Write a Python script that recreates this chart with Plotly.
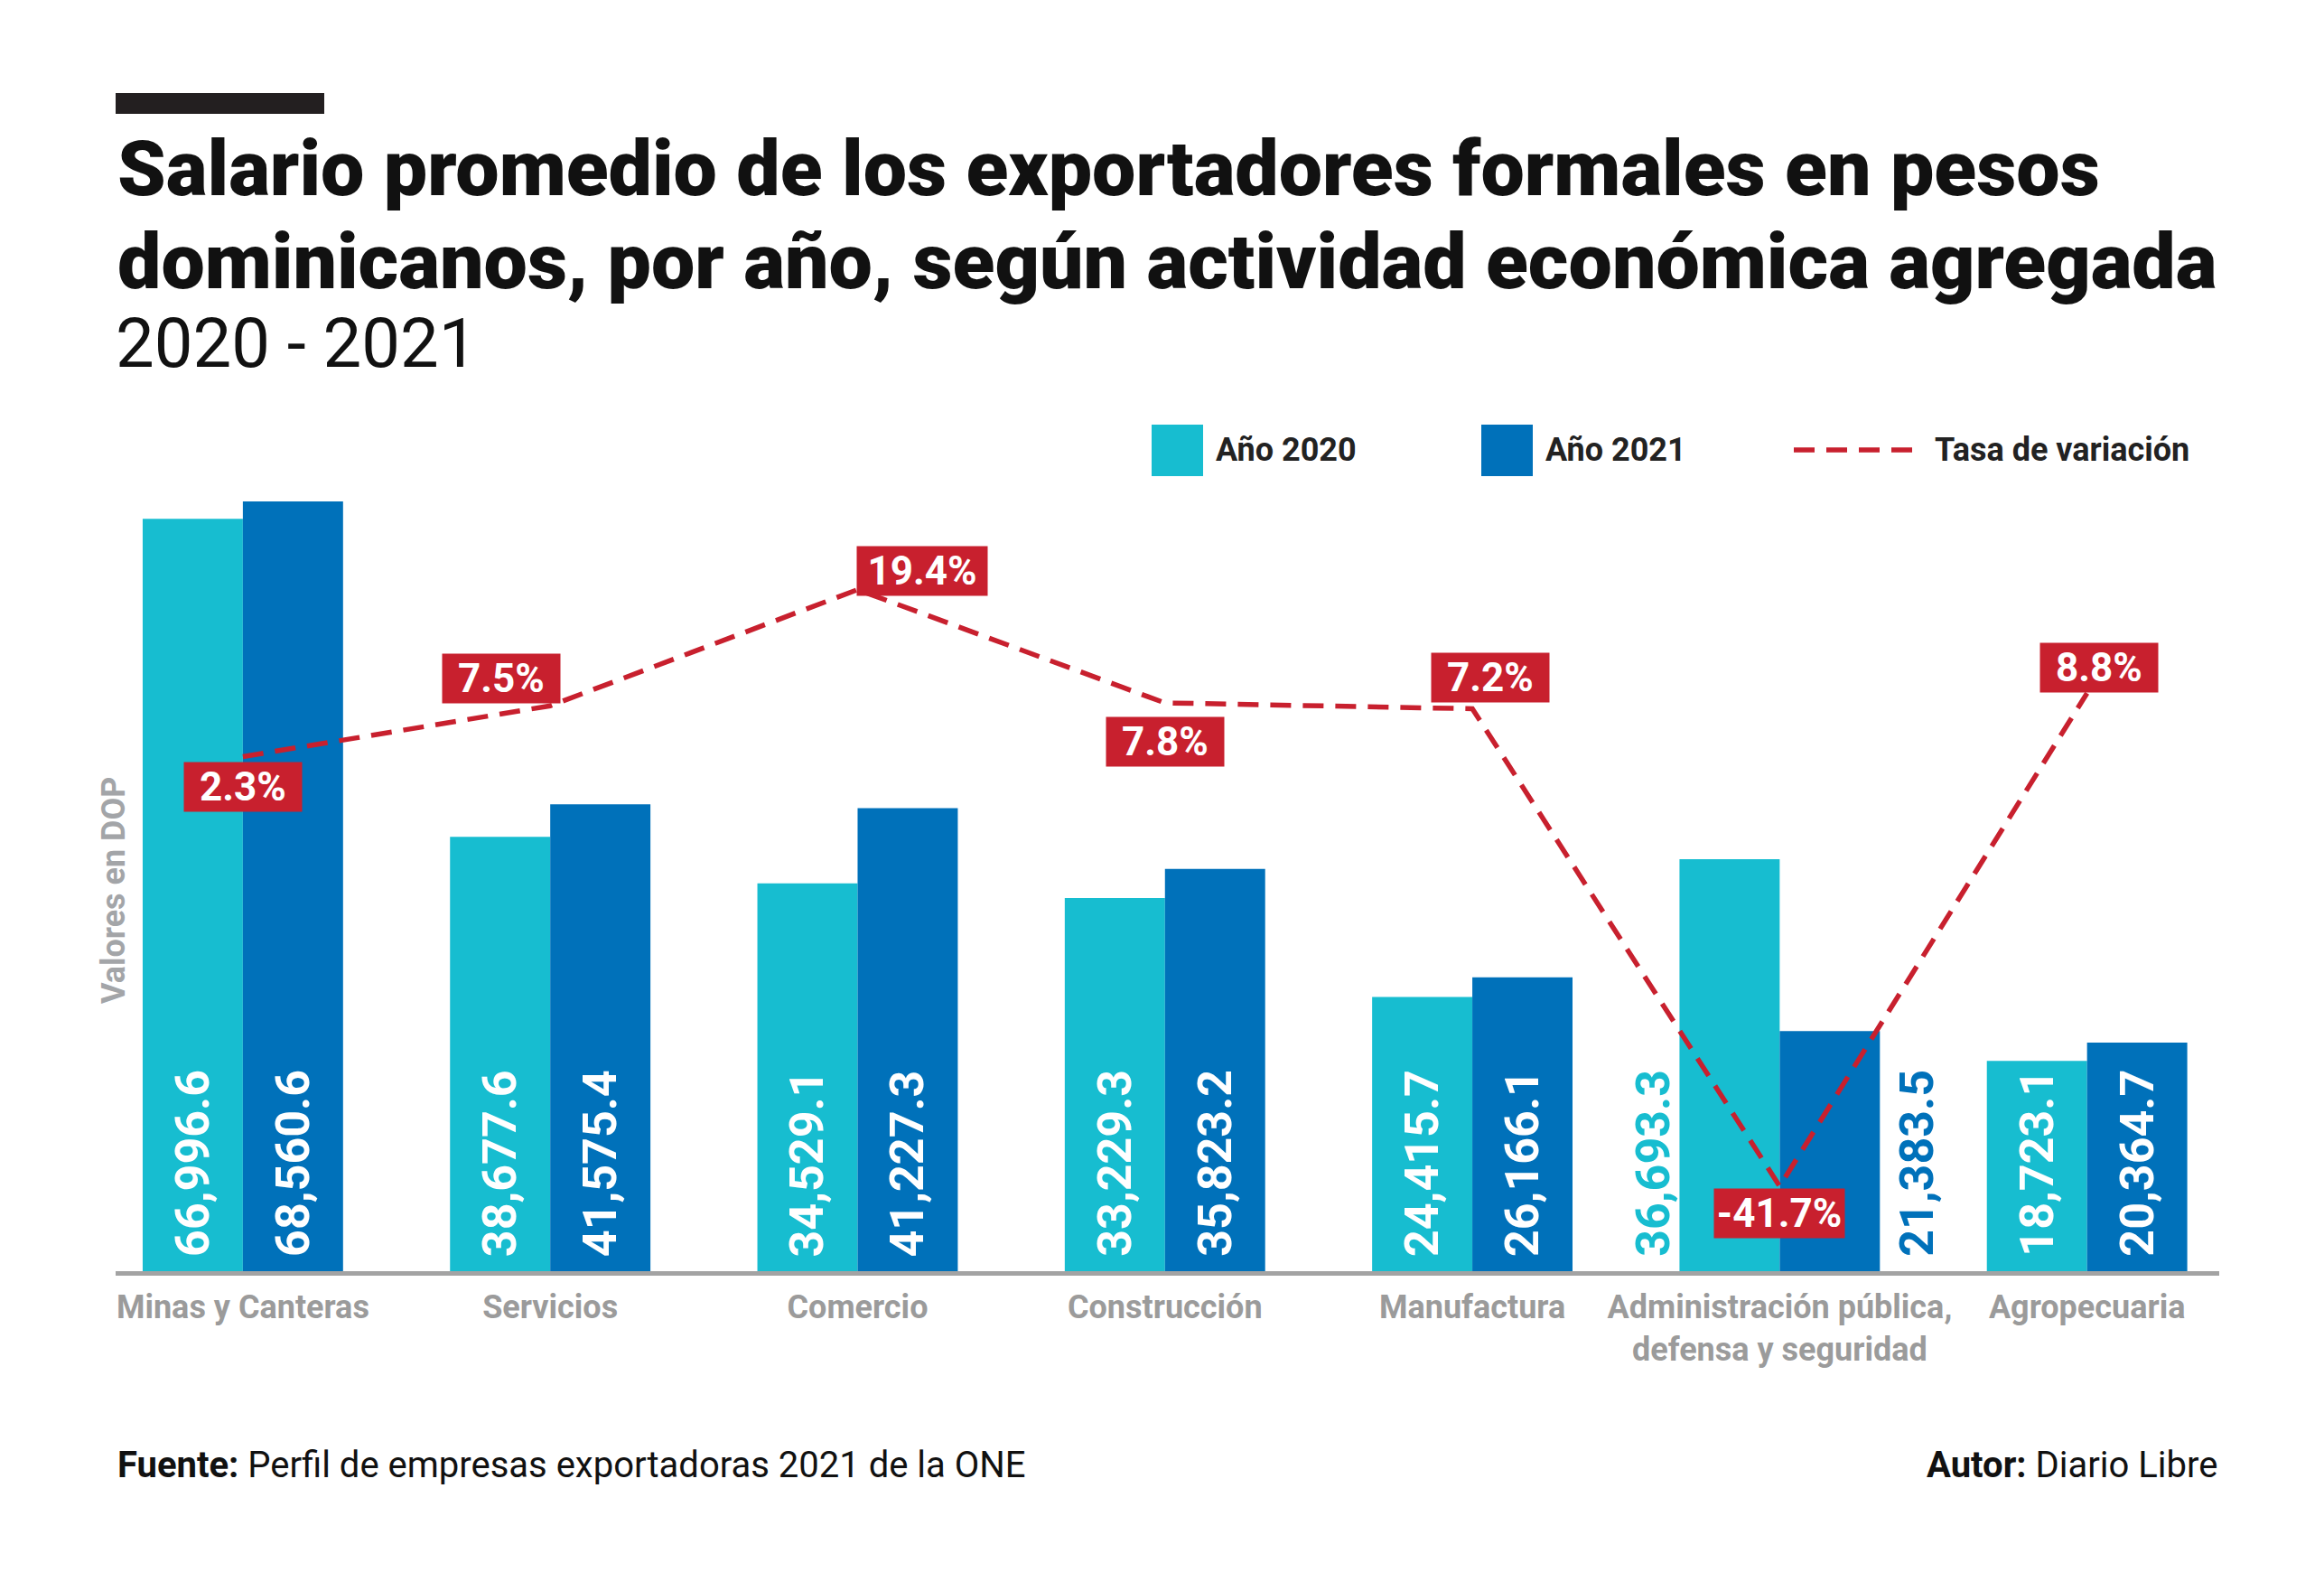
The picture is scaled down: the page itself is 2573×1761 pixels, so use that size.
import plotly.graph_objects as go

categories = ["Minas y Canteras", "Servicios", "Comercio", "Construcción", "Manufactura",
              "Administración pública,<br>defensa y seguridad", "Agropecuaria"]
v2020 = [66996.6, 38677.6, 34529.1, 33229.3, 24415.7, 36693.3, 18723.1]
v2021 = [68560.6, 41575.4, 41227.3, 35823.2, 26166.1, 21383.5, 20364.7]
tasa = [2.3, 7.5, 19.4, 7.8, 7.2, -41.7, 8.8]

TEAL = "#17BDD0"
BLUE = "#0071BA"
RED = "#C8202E"
GRAY = "#9B9B9B"
FONT = "Roboto"

W, H = 2573, 1761
L, R, T, B = 128, 2457, 537, 1407


def px(x):
    return (x - L) / (R - L)


def py(y):
    return (B - y) / (B - T)


fig = go.Figure()
fig.add_trace(go.Bar(x=categories, y=v2020, name="Año 2020", marker_color=TEAL,
                     marker_line_width=0))
fig.add_trace(go.Bar(x=categories, y=v2021, name="Año 2021", marker_color=BLUE,
                     marker_line_width=0))
fig.add_trace(go.Scatter(x=categories, y=tasa, name="Tasa de variación", yaxis="y2",
                         mode="lines", line=dict(color=RED, width=5.5, dash="23px,13px")))

ann = []
# value labels (rotated)
for i, c in enumerate(categories):
    for v, sh, col in ((v2020[i], -55.5, "white"), (v2021[i], 55.5, "white")):
        ann.append(dict(x=c, y=0, xref="x", yref="y", text=f"{v:,.1f}", showarrow=False,
                        textangle=-90, xanchor="center", yanchor="bottom", xshift=sh, yshift=14,
                        font=dict(family=FONT, size=52, color=col, weight="bold")))
# Administración labels outside of bars
adm = 5
ann[2 * adm]["xshift"] = -140
ann[2 * adm]["font"]["color"] = TEAL
ann[2 * adm + 1]["xshift"] = 152
ann[2 * adm + 1]["font"]["color"] = BLUE

# rate labels
offs = [(0, -34), (-54, 30), (72, 21), (0, -43), (20, 34), (0, -30), (13, 28)]
for i, c in enumerate(categories):
    txt = f"{tasa[i]}%"
    ann.append(dict(x=c, y=tasa[i], xref="x", yref="y2", text=txt, showarrow=False,
                    xshift=offs[i][0], yshift=offs[i][1], bgcolor=RED,
                    width=142 if len(txt) > 4 else 128, height=52,
                    font=dict(family=FONT, size=44, color="white", weight="bold")))

# titles
ann.append(dict(x=px(128), y=py(187), xref="paper", yref="paper", xanchor="left", yanchor="middle",
                text="Salario promedio de los exportadores formales en pesos", showarrow=False,
                font=dict(family=FONT, size=86, color="#111111", weight=900)))
ann.append(dict(x=px(128), y=py(290), xref="paper", yref="paper", xanchor="left", yanchor="middle",
                text="dominicanos, por año, según actividad económica agregada", showarrow=False,
                font=dict(family=FONT, size=86, color="#111111", weight=900)))
ann.append(dict(x=px(126), y=py(380), xref="paper", yref="paper", xanchor="left", yanchor="middle",
                text="2020 - 2021", showarrow=False,
                font=dict(family=FONT, size=76, color="#111111")))

# legend text
for xx, t in ((1344, "Año 2020"), (1709, "Año 2021"), (2140, "Tasa de variación")):
    ann.append(dict(x=px(xx), y=py(498), xref="paper", yref="paper", xanchor="left", yanchor="middle",
                    text=t, showarrow=False,
                    font=dict(family=FONT, size=36, color="#222222", weight="bold")))

# y-axis title
ann.append(dict(x=px(126), y=py(985), xref="paper", yref="paper", xanchor="center", yanchor="middle",
                text="Valores en DOP", textangle=-90, showarrow=False,
                font=dict(family=FONT, size=36, color="#A3A5A8", weight="bold")))

# footer
ann.append(dict(x=px(128), y=py(1621), xref="paper", yref="paper", xanchor="left", yanchor="middle",
                text="<b>Fuente:</b> Perfil de empresas exportadoras 2021 de la ONE", showarrow=False,
                font=dict(family=FONT, size=40, color="#111111")))
ann.append(dict(x=px(2457), y=py(1621), xref="paper", yref="paper", xanchor="right", yanchor="middle",
                text="<b>Autor:</b> Diario Libre", showarrow=False,
                font=dict(family=FONT, size=40, color="#111111")))

shapes = [
    dict(type="rect", xref="paper", yref="paper", x0=px(128), x1=px(359), y0=py(103), y1=py(126),
         fillcolor="#231F20", line_width=0),
    dict(type="rect", xref="paper", yref="paper", x0=px(1275), x1=px(1332), y0=py(470), y1=py(527),
         fillcolor=TEAL, line_width=0),
    dict(type="rect", xref="paper", yref="paper", x0=px(1640), x1=px(1697), y0=py(470), y1=py(527),
         fillcolor=BLUE, line_width=0),
    dict(type="line", xref="paper", yref="paper", x0=px(1986), x1=px(2128), y0=py(498), y1=py(498),
         line=dict(color=RED, width=5.5, dash="23px,13px")),
]

fig.update_layout(
    width=W, height=H, autosize=False,
    margin=dict(l=L, r=W - R, t=T, b=H - B, pad=0),
    paper_bgcolor="white", plot_bgcolor="white",
    barmode="group", bargap=0.348, bargroupgap=0,
    showlegend=False,
    annotations=ann, shapes=shapes,
    font=dict(family=FONT),
    xaxis=dict(type="category", range=[-0.414, 6.43], showline=True, linecolor="#A3A3A3",
               linewidth=5, ticks="", showgrid=False, zeroline=False, ticklabelstandoff=4,
               tickfont=dict(family=FONT, size=36, color=GRAY, weight="bold")),
    yaxis=dict(range=[0, 70000], visible=False, showgrid=False, zeroline=False),
    yaxis2=dict(range=[-50.4, 30.1], overlaying="y", visible=False, showgrid=False, zeroline=False),
)

fig.write_html("out.html", config={"displayModeBar": False},
               post_script="document.body.style.margin='0';")
